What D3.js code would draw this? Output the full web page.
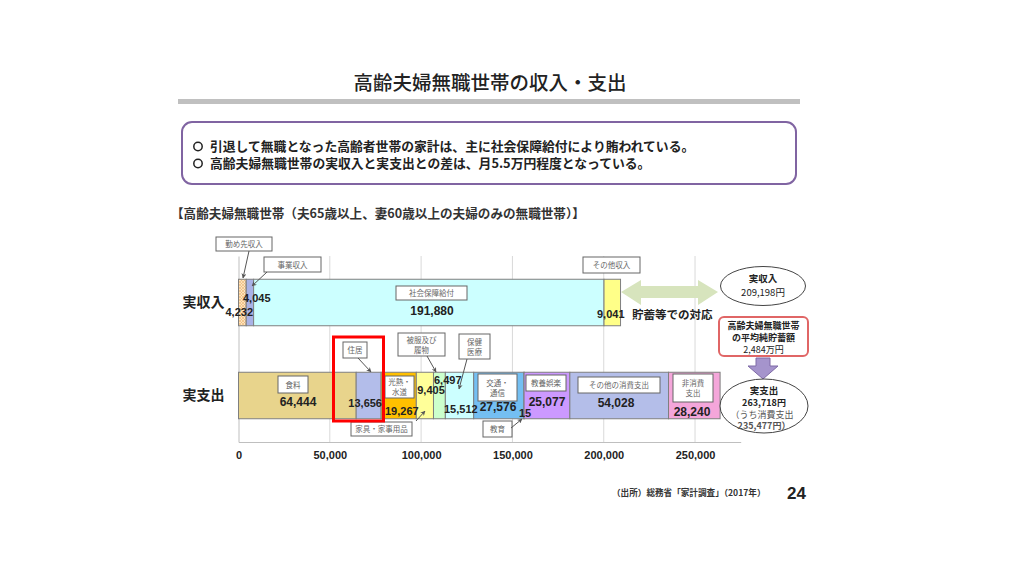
<!DOCTYPE html>
<html><head><meta charset="utf-8">
<script src="https://cdn.jsdelivr.net/npm/d3@7"></script>
<style>body{margin:0;background:#fff}svg{display:block}</style>
</head><body><svg id="c" width="1024" height="576"></svg>
<script>
// ---- data ----
const rows = ["実収入", "実支出"];
const incomeCats = ["勤め先収入", "事業収入", "社会保障給付", "その他収入"];
const incomeValues = [4232, 4045, 191880, 9041];
const expCats = ["食料", "住居", "光熱・水道", "家具・家事用品", "被服及び履物", "保健医療", "交通・通信", "教育", "教養娯楽", "その他の消費支出", "非消費支出"];
const expValues = [64444, 13656, 19267, 9405, 6497, 15512, 27576, 15, 25077, 54028, 28240];
const tickValues = [0, 50000, 100000, 150000, 200000, 250000];
const totalIncome = 209198, totalExp = 263718, consumption = 235477, savingsMan = 2484;

// ---- styles / layout (not data) ----
const incomeColors = ["url(#hatch)", "#A9B2E6", "#CCFFFF", "#FFFF88"];
const expColors = ["#E8D48C", "#B3BDEA", "#FFC000", "#FFFF99", "#CCFFCC", "#CCFFFF", "#74BFF2", "#74BFF2", "#CC99FF", "#B4BEE9", "#F4A6DA"];
const JP = "'Noto Sans CJK JP', sans-serif";
const NUM = "'Liberation Sans', Arial, 'Noto Sans CJK JP', sans-serif";

const svg = d3.select("#c");
const defs = svg.append("defs");
const pat = defs.append("pattern").attr("id", "hatch").attr("patternUnits", "userSpaceOnUse").attr("width", 3).attr("height", 3);
pat.append("rect").attr("width", 3).attr("height", 3).attr("fill", "#FCE3BE");
pat.append("path").attr("d", "M0,3 L3,0 M0,0 L3,3").attr("stroke", "#EDB470").attr("stroke-width", 0.6);
defs.append("marker").attr("id", "arr").attr("viewBox", "0 0 10 10").attr("refX", 9).attr("refY", 5)
  .attr("markerWidth", 5).attr("markerHeight", 5).attr("orient", "auto")
  .append("path").attr("d", "M0,0 L10,5 L0,10 L3,5 z").attr("fill", "#555");

// ---- header ----
svg.append("text").attr("x", 490).attr("y", 90).attr("text-anchor", "middle")
  .attr("font-family", JP).attr("font-size", 19.5).attr("font-weight", 500).attr("fill", "#222")
  .text("高齢夫婦無職世帯の収入・支出");
svg.append("rect").attr("x", 178).attr("y", 99).attr("width", 622).attr("height", 5).attr("fill", "#C0C0C0");
svg.append("rect").attr("x", 182).attr("y", 122).attr("width", 614).attr("height", 62).attr("rx", 10)
  .attr("fill", "#fff").attr("stroke", "#8064A2").attr("stroke-width", 2);
const bullets = ["引退して無職となった高齢者世帯の家計は、主に社会保障給付により賄われている。",
                 "高齢夫婦無職世帯の実収入と実支出との差は、月5.5万円程度となっている。"];
bullets.forEach((t, i) => {
  const y = 151 + i * 17;
  svg.append("circle").attr("cx", 198).attr("cy", y - 4.5).attr("r", 4.2).attr("fill", "none").attr("stroke", "#222").attr("stroke-width", 1.5);
  svg.append("text").attr("x", 210).attr("y", y).attr("font-family", JP).attr("font-size", 12.8).attr("font-weight", 700)
    .attr("fill", "#222").text(t);
});
svg.append("text").attr("x", 171).attr("y", 218).attr("font-family", JP).attr("font-size", 12.6).attr("font-weight", 700)
  .attr("fill", "#333").text("【高齢夫婦無職世帯（夫65歳以上、妻60歳以上の夫婦のみの無職世帯）】");

// ---- scales ----
const x = d3.scaleLinear().domain([0, 275000]).range([238.5, 740.7]);
const y = d3.scaleBand().domain(rows).range([256, 442]).paddingInner(0.5).paddingOuter(0.25);

// grid
svg.append("g").selectAll("line").data(tickValues.slice(1)).join("line")
  .attr("x1", d => x(d)).attr("x2", d => x(d)).attr("y1", 256).attr("y2", 442)
  .attr("stroke", "#D9D9D9").attr("stroke-width", 1);
// axes
const xAxis = d3.axisBottom(x).tickValues(tickValues).tickFormat(d3.format(",")).tickSize(0).tickPadding(9);
const gx = svg.append("g").attr("transform", "translate(0,442)").call(xAxis);
gx.select(".domain").attr("stroke", "#BFBFBF");
gx.selectAll("text").attr("font-family", NUM).attr("font-size", 11).attr("font-weight", 700).attr("fill", "#222");
const yAxis = d3.axisLeft(y).tickSize(0).tickPadding(14);
const gy = svg.append("g").attr("transform", "translate(238.5,0)").call(yAxis);
gy.select(".domain").attr("stroke", "#BFBFBF");
gy.selectAll("text").attr("font-family", JP).attr("font-size", 14).attr("font-weight", 700).attr("fill", "#222");

// stacked bars
function stack(vals) { let c = 0; return vals.map(v => { const s = c; c += v; return [s, c]; }); }
const incStack = stack(incomeValues), expStack = stack(expValues);
svg.append("g").selectAll("rect").data(incomeValues).join("rect")
  .attr("x", (d, i) => x(incStack[i][0])).attr("width", (d, i) => x(incStack[i][1]) - x(incStack[i][0]))
  .attr("y", y("実収入")).attr("height", y.bandwidth())
  .attr("fill", (d, i) => incomeColors[i]).attr("stroke", "#7F7F7F").attr("stroke-width", 1);
svg.append("g").selectAll("rect").data(expValues).join("rect")
  .attr("x", (d, i) => x(expStack[i][0])).attr("width", (d, i) => x(expStack[i][1]) - x(expStack[i][0]))
  .attr("y", y("実支出")).attr("height", y.bandwidth())
  .attr("fill", (d, i) => expColors[i]).attr("stroke", "#7F7F7F").attr("stroke-width", 1);

// ---- label boxes (annotation layout) ----
const fmt = d3.format(",");
function box(x0, y0, w, h, lines) {
  svg.append("rect").attr("x", x0).attr("y", y0).attr("width", w).attr("height", h)
    .attr("fill", "#fff").attr("stroke", "#666").attr("stroke-width", 1);
  const lh = 10, cy = y0 + h / 2 - (lines.length - 1) * lh / 2;
  lines.forEach((t, i) => svg.append("text").attr("x", x0 + w / 2).attr("y", cy + i * lh + 3)
    .attr("text-anchor", "middle").attr("font-family", JP).attr("font-size", 7.5).attr("fill", "#666").text(t));
}
function arrow(x1, y1, x2, y2) {
  svg.append("line").attr("x1", x1).attr("y1", y1).attr("x2", x2).attr("y2", y2)
    .attr("stroke", "#555").attr("stroke-width", 1).attr("marker-end", "url(#arr)");
}
function val(v, tx, ty, anchor, size) {
  svg.append("text").attr("x", tx).attr("y", ty).attr("text-anchor", anchor || "middle")
    .attr("font-family", NUM).attr("font-size", size || 12).attr("font-weight", 700).attr("fill", "#222").text(fmt(v));
}

// income annotations
box(216, 237, 56, 14, [incomeCats[0]]); arrow(249, 251, 243, 278);
box(264, 257, 57, 15, [incomeCats[1]]); arrow(267, 272, 252, 286);
box(396, 286, 71, 14, [incomeCats[2]]);
box(583, 257, 57, 16, [incomeCats[3]]);
val(incomeValues[0], 253, 316, "end", 11);
val(incomeValues[1], 243, 302, "start", 11);
val(incomeValues[2], 432, 315, "middle", 12);
val(incomeValues[3], 597, 318, "start", 11);
svg.append("text").attr("x", 632).attr("y", 319).attr("font-family", JP).attr("font-size", 11.5).attr("font-weight", 700)
  .attr("fill", "#222").text("貯蓄等での対応");

// expenditure annotations
box(278, 376, 30, 17, [expCats[0]]);
box(343, 342, 24, 16, ["住居"]); arrow(358, 358, 371, 372);
box(385, 376, 29, 22, ["光熱・", "水道"]);
box(398, 333, 47, 23, ["被服及び", "履物"]); arrow(427, 356, 436, 372);
box(351, 422, 61, 14, [expCats[3]]); arrow(416, 421, 425, 411);
box(459, 334, 31, 25, ["保健", "医療"]); arrow(467, 359, 459, 389);
box(478, 374, 39, 27, ["交通・", "通信"]);
box(483, 421, 29, 16, [expCats[7]]); arrow(511, 428, 522, 419);
box(526, 375, 40, 16, [expCats[8]]);
box(578, 377, 82, 16, [expCats[9]]);
box(673, 374, 40, 28, ["非消費", "支出"]);
val(expValues[0], 298, 406, "middle", 12);
val(expValues[1], 382, 407, "end", 11);
val(expValues[2], 385, 415, "start", 11);
val(expValues[3], 431, 394, "middle", 11);
val(expValues[4], 434, 384, "start", 11);
val(expValues[5], 444, 413, "start", 11);
val(expValues[6], 498, 411, "middle", 12);
val(expValues[7], 519, 417, "start", 11);
val(expValues[8], 547, 406, "middle", 12);
val(expValues[9], 616, 407, "middle", 12);
val(expValues[10], 692, 416, "middle", 12);

// red highlight
svg.append("rect").attr("x", 333.5).attr("y", 337).attr("width", 50).attr("height", 84)
  .attr("fill", "none").attr("stroke", "#FF0000").attr("stroke-width", 3);

// green double arrow
const ga = d3.path();
ga.moveTo(621, 292); ga.lineTo(641, 280); ga.lineTo(641, 286); ga.lineTo(698, 286); ga.lineTo(698, 280);
ga.lineTo(718, 292); ga.lineTo(698, 305); ga.lineTo(698, 298); ga.lineTo(641, 298); ga.lineTo(641, 305); ga.closePath();
svg.append("path").attr("d", ga.toString()).attr("fill", "#D7E4BD");

// right side
svg.append("ellipse").attr("cx", 763).attr("cy", 286).attr("rx", 42.5).attr("ry", 19.5)
  .attr("fill", "#fff").attr("stroke", "#444").attr("stroke-width", 1);
function ctext(t, cx, cy, size, weight, fill) {
  svg.append("text").attr("x", cx).attr("y", cy).attr("text-anchor", "middle").attr("font-family", JP)
    .attr("font-size", size).attr("font-weight", weight || 400).attr("fill", fill || "#222").text(t);
}
ctext("実収入", 763, 282, 9.5, 700);
ctext(fmt(totalIncome) + "円", 763, 296, 9.5, 400);

svg.append("rect").attr("x", 719).attr("y", 317).attr("width", 89).attr("height", 39).attr("rx", 5)
  .attr("fill", "#fff").attr("stroke", "#E06666").attr("stroke-width", 2);
ctext("高齢夫婦無職世帯", 763.5, 329, 9, 700);
ctext("の平均純貯蓄額", 763.5, 341, 9, 700);
ctext(fmt(savingsMan) + "万円", 763.5, 353, 9, 400);

const pa = d3.path();
pa.moveTo(756, 358); pa.lineTo(770, 358); pa.lineTo(770, 366); pa.lineTo(778, 366); pa.lineTo(763, 379);
pa.lineTo(748, 366); pa.lineTo(756, 366); pa.closePath();
svg.append("path").attr("d", pa.toString()).attr("fill", "#A594CC").attr("stroke", "#7E6AA6").attr("stroke-width", 1);

svg.append("ellipse").attr("cx", 764).attr("cy", 406).attr("rx", 44).attr("ry", 27)
  .attr("fill", "#fff").attr("stroke", "#444").attr("stroke-width", 1);
ctext("実支出", 764, 394, 9.5, 700);
ctext(fmt(totalExp) + "円", 764, 406, 9, 700);
ctext("（うち消費支出", 762, 418, 9, 400, "#555");
ctext(fmt(consumption) + "円）", 764, 429, 9, 700, "#555");

// footer
svg.append("text").attr("x", 612).attr("y", 496).attr("font-family", JP).attr("font-size", 8.6).attr("font-weight", 700)
  .attr("fill", "#333").text("（出所）総務省「家計調査」（2017年）");
svg.append("text").attr("x", 787).attr("y", 499).attr("font-family", NUM).attr("font-size", 17).attr("font-weight", 700)
  .attr("fill", "#222").text("24");
</script>
</body></html>
